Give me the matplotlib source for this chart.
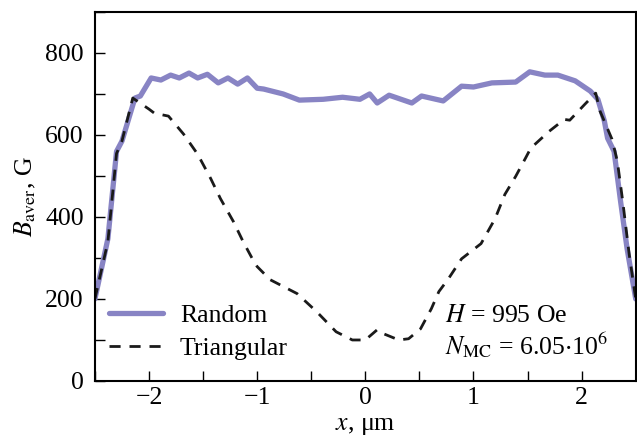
import numpy as np
import matplotlib
matplotlib.use("Agg")
import matplotlib.pyplot as plt
from matplotlib.ticker import MultipleLocator

# Random distribution of particles
x_random = [-2.5, -2.38, -2.30, -2.25, -2.13, -2.08, -1.98, -1.89, -1.80, -1.72,
            -1.63, -1.55, -1.46, -1.36, -1.27, -1.18, -1.09, -1.00, -0.94, -0.76,
            -0.61, -0.39, -0.21, -0.05, 0.04, 0.11, 0.22, 0.43, 0.52, 0.72,
            0.89, 1.00, 1.17, 1.39, 1.52, 1.66, 1.78, 1.94, 2.08, 2.15,
            2.21, 2.24, 2.30, 2.36, 2.42, 2.5]
b_random = [200, 347, 560, 585, 690, 695, 739, 734, 746, 739,
            751, 739, 748, 727, 739, 724, 739, 714, 712, 700,
            685, 687, 692, 687, 700, 678, 697, 678, 695, 683,
            719, 717, 727, 729, 754, 746, 746, 732, 707, 687,
            634, 592, 560, 438, 323, 200]

# Triangular lattice
x_tri = [-2.5, -2.38, -2.30, -2.25, -2.15, -2.0, -1.95, -1.82, -1.68, -1.55,
         -1.43, -1.34, -1.22, -1.13, -1.04, -1.00, -0.88, -0.63, -0.45, -0.27,
         -0.12, 0.0, 0.11, 0.17, 0.31, 0.40, 0.51, 0.61, 0.68, 0.77,
         0.89, 1.07, 1.20, 1.29, 1.39, 1.48, 1.53, 1.70, 1.84, 1.89,
         2.03, 2.13, 2.17, 2.28, 2.33, 2.38, 2.44, 2.5]
b_tri = [200, 340, 555, 585, 690, 663, 653, 646, 602, 553,
         494, 445, 389, 340, 296, 279, 247, 213, 169, 120,
         100, 100, 125, 115, 100, 103, 127, 176, 218, 250,
         298, 335, 396, 455, 499, 543, 568, 609, 638, 636,
         675, 702, 658, 590, 536, 438, 308, 200]

plt.rcParams['font.family'] = ['Liberation Serif', 'DejaVu Serif']
plt.rcParams['mathtext.fontset'] = 'stix'
plt.rcParams['font.size'] = 18.5

fig = plt.figure(figsize=(6.37, 4.43), dpi=100)
ax = fig.add_axes([0.149, 0.14, 0.849, 0.833])

ax.plot(x_random, b_random, color='#8884c4', lw=3.8, label='Random',
        solid_joinstyle='round', solid_capstyle='round')
ax.plot(x_tri, b_tri, color='#1a1a1a', lw=2.0, dashes=(4.0, 3.2), label='Triangular')

ax.set_xlim(-2.5, 2.5)
ax.set_ylim(0, 900)
ax.xaxis.set_major_locator(MultipleLocator(1))
ax.xaxis.set_minor_locator(MultipleLocator(0.5))
ax.yaxis.set_major_locator(MultipleLocator(200))
ax.yaxis.set_minor_locator(MultipleLocator(100))
ax.tick_params(which='both', direction='in', top=False, right=False, width=1.0)
ax.tick_params(which='major', length=7)
ax.tick_params(which='minor', length=7)
ax.tick_params(axis='x', pad=4)
ax.tick_params(axis='y', pad=8)
for sp in ax.spines.values():
    sp.set_linewidth(1.5)

ax.set_xlabel(r'$x$, μm', labelpad=5)
ax.set_ylabel(r'$B_{\rm aver}$, G', labelpad=5)

ax.legend(loc='lower left', bbox_to_anchor=(-0.016, -0.007), frameon=False,
          handlelength=2.1, handletextpad=0.65, labelspacing=0.42, fontsize=18.5)

ax.text(0.648, 0.16, r'$H$ = 995 Oe', transform=ax.transAxes)
ax.text(0.648, 0.072, r'$N_{\rm MC}$ = 6.05$\cdot$10$^6$', transform=ax.transAxes)

fig.savefig('out.png', dpi=100)
